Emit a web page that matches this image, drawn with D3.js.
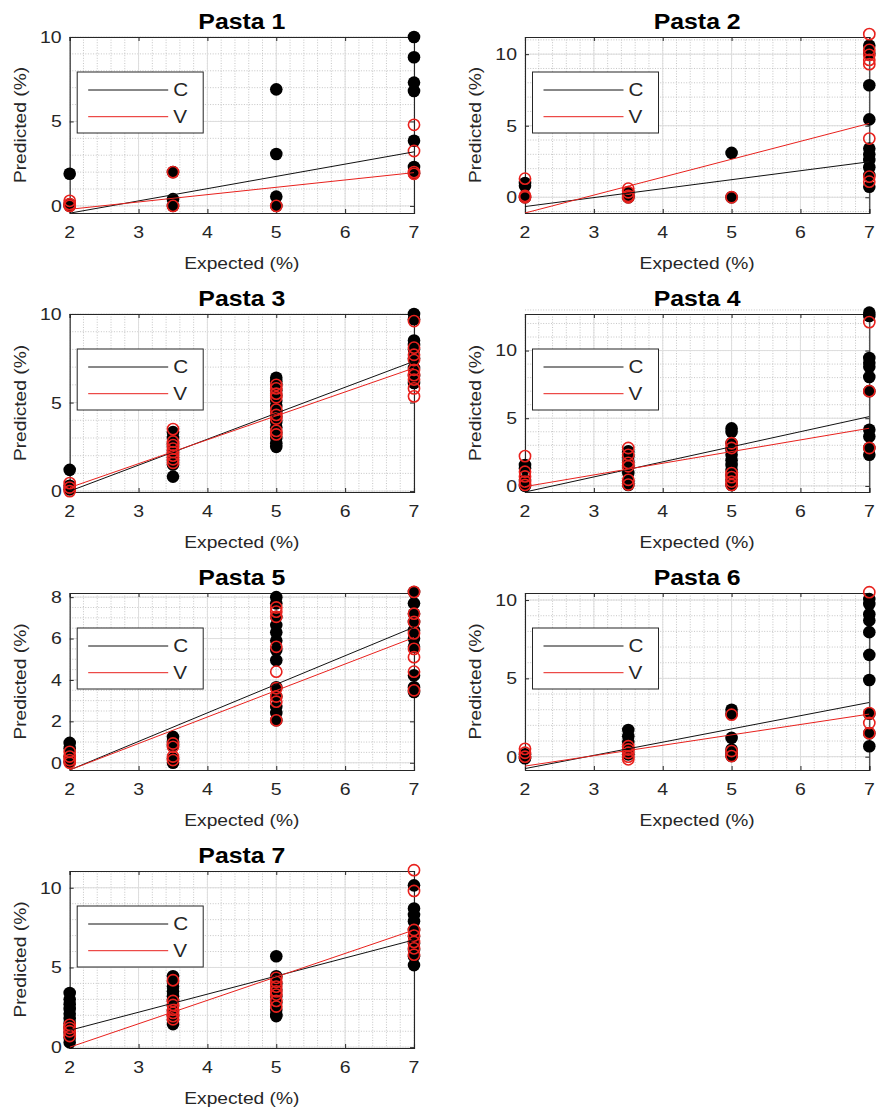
<!DOCTYPE html>
<html>
<head>
<meta charset="utf-8">
<script src="https://cdn.jsdelivr.net/npm/d3@7"></script>
<style>
  body { margin: 0; background: #fff; }
  svg { display: block; }
  text { font-family: "Liberation Sans", Arial, Helvetica, sans-serif; fill: #262626; }
</style>
</head>
<body>
<svg id="chart" width="877" height="1111"></svg>
<script>
// ---- data -------------------------------------------------------------
const titles = ["Pasta 1", "Pasta 2", "Pasta 3", "Pasta 4", "Pasta 5", "Pasta 6", "Pasta 7"];
const expected = [2, 3.5, 5, 7];          // expected concentration levels (%)
const xTicks = [2, 3, 4, 5, 6, 7];
const seriesNames = ["C", "V"];

// predicted values, one inner array per expected level (2, 3.5, 5, 7)
const pasta1C = [[1.9, 0.1, 0], [2.0, 0.4, 0], [6.9, 3.07, 0.55, 0], [10, 8.8, 7.3, 6.8, 3.86, 2.3, 1.93]];
const pasta1V = [[0.3, 0.1, 0], [2.0, 0], [0], [4.8, 3.25, 2.0, 1.9]];

const pasta2C = [[1.0, 0.8, 0], [0.3, 0.1, 0], [3.1, 0], [10.6, 10.05, 7.83, 5.44, 3.4, 3.0, 2.6, 2.1, 1.55, 0.74]];
const pasta2V = [[1.3, 0.1, 0], [0.6, 0.35, 0.1, 0], [0], [11.4, 10.3, 9.95, 9.6, 9.3, 4.1, 1.44, 1.09]];

const pasta3C = [[1.2, 0.3, 0.1], [3.33, 3.0, 2.7, 2.5, 2.3, 2.1, 1.9, 1.7, 1.5, 0.82],
                 [6.4, 6.2, 6.0, 5.7, 5.4, 5.1, 4.8, 4.5, 4.2, 3.9, 3.6, 3.3, 3.0, 2.7, 2.5],
                 [10.0, 9.7, 8.5, 8.25, 8.0, 7.5, 6.95, 6.5, 6.1]];
const pasta3V = [[0.45, 0.2, 0], [3.5, 2.8, 2.6, 2.4, 2.2, 2.0, 1.8, 1.6],
                 [6.0, 5.8, 5.5, 5.3, 4.6, 4.3, 4.1, 3.4, 3.2],
                 [9.6, 8.1, 7.7, 7.4, 6.85, 6.55, 6.3, 5.8, 5.35]];

const pasta4C = [[1.55, 1.3, 0.45, 0], [2.55, 2.2, 1.8, 1.45, 0.95, 0.32, 0.07],
                 [4.25, 4.0, 3.15, 2.65, 2.3, 1.9, 1.55, 1.2, 0.8, 0.45, 0.07],
                 [12.8, 12.55, 9.45, 9.1, 8.8, 8.05, 7.0, 4.15, 3.65, 2.8, 2.3]];
const pasta4V = [[2.2, 1.05, 0.7, 0.32, 0.07], [2.8, 2.3, 1.7, 1.45, 0.45, 0.1],
                 [3.15, 2.8, 0.95, 0.65, 0.32, 0.07], [12.1, 7.0, 2.8]];

const pasta5C = [[0.96, 0.7, 0.3, 0.05], [1.25, 1.0, 0.85, 0.2, 0],
                 [8.0, 7.7, 7.05, 6.65, 6.3, 5.9, 5.45, 4.95, 3.65, 3.2, 2.7, 2.4, 2.05],
                 [8.25, 7.7, 7.2, 6.8, 6.4, 6.0, 5.6, 4.22, 3.65, 3.42]];
const pasta5V = [[0.53, 0.3, 0.13, 0], [0.93, 0.77, 0.3, 0.13],
                 [7.5, 7.3, 7.05, 5.6, 4.4, 3.6, 3.2, 2.95, 2.05],
                 [8.25, 7.2, 6.8, 6.25, 5.5, 5.1, 4.4, 3.5]];

const pasta6C = [[0.15, 0, -0.1], [1.7, 1.3, 0.93, 0.46, 0.15], [3.0, 2.74, 1.2, 0.46, 0.25, 0.04],
                 [10.06, 9.75, 9.1, 8.7, 7.95, 6.5, 4.9, 2.74, 1.5, 0.67]];
const pasta6V = [[0.5, 0.25, 0], [0.67, 0.46, 0.25, 0, -0.17], [2.68, 0.36, 0.04],
                 [10.5, 2.78, 2.15, 1.5]];

const pasta7C = [[3.4, 3.0, 2.7, 2.4, 2.1, 1.8, 1.5, 1.2, 0.9, 0.6, 0.3],
                 [4.45, 4.1, 3.8, 3.5, 3.2, 2.9, 2.6, 2.3, 2.0, 1.7, 1.45],
                 [5.7, 4.45, 4.0, 3.6, 3.2, 2.8, 2.35, 2.05, 1.95],
                 [10.15, 8.7, 8.3, 7.9, 7.35, 6.95, 6.5, 6.1, 5.7, 5.15]];
const pasta7V = [[1.4, 1.2, 1.0, 0.7], [4.2, 2.9, 2.65, 2.35, 2.15, 1.95, 1.75],
                 [4.35, 4.1, 3.8, 3.5, 3.3, 2.9, 2.55],
                 [11.1, 9.8, 7.35, 7.0, 6.6, 6.2, 5.8]];

const predictedC = [pasta1C, pasta2C, pasta3C, pasta4C, pasta5C, pasta6C, pasta7C];
const predictedV = [pasta1V, pasta2V, pasta3V, pasta4V, pasta5V, pasta6V, pasta7V];

// fitted regression lines, value at expected = 2 and expected = 7
const fitC = [[-0.43, 3.2], [-0.65, 2.48], [0.0, 7.33], [-0.45, 5.12], [-0.35, 6.55], [-0.76, 3.46], [1.06, 6.73]];
const fitV = [[-0.2, 1.97], [-1.1, 5.16], [0.2, 6.95], [-0.05, 4.26], [-0.35, 6.05], [-0.6, 2.72], [0.0, 7.35]];

// y-axis limits and ticks
const yLimits = [[-0.42, 10], [-1.1, 11.2], [-0.05, 10], [-0.45, 12.7], [-0.35, 8.2], [-0.85, 10.45], [-0.05, 11.05]];
const yTicks = [[0, 5, 10], [0, 5, 10], [0, 5, 10], [0, 5, 10], [0, 2, 4, 6, 8], [0, 5, 10], [0, 5, 10]];
const yMinorStep = [1, 1, 1, 1, 0.5, 1, 1];
const xMinorStep = 0.2;

// ---- layout -----------------------------------------------------------
const colLeft = [69.7, 525];
const plotW = 344.3;
const rowTop = [37, 314, 593, 871];
const plotH = [176, 178, 177, 177];

const svg = d3.select("#chart");

// text helper: Arial-like glyphs, widened along the text direction
function label(g, x, y, str, o) {
  const t = g.append("text")
    .attr("transform", `translate(${x},${y})` + (o.rotate ? ` rotate(${o.rotate})` : "") + ` scale(${o.sx || 1},1)`)
    .attr("text-anchor", o.anchor || "middle")
    .attr("font-size", o.size)
    .attr("font-weight", o.weight || "normal")
    .text(str);
  if (o.dy) t.attr("dy", o.dy);
  return t;
}

function range(a, b, step) {
  const out = [];
  const n = Math.round((b - a) / step);
  for (let i = 0; i <= n; i++) out.push(+(a + i * step).toFixed(6));
  return out;
}

titles.forEach((title, i) => {
  const row = Math.floor(i / 2), col = i % 2;
  const x0 = colLeft[col], x1 = x0 + plotW;
  const top = rowTop[row], bottom = top + plotH[row];

  const x = d3.scaleLinear().domain([2, 7]).range([x0, x1]);
  const y = d3.scaleLinear().domain(yLimits[i]).range([bottom, top]);

  const g = svg.append("g");
  const clipId = "clip" + i;
  svg.append("clipPath").attr("id", clipId)
    .append("rect").attr("x", x0).attr("y", top).attr("width", plotW).attr("height", bottom - top);

  // minor grid (dotted)
  const yMinor = range(Math.ceil(yLimits[i][0] / yMinorStep[i]) * yMinorStep[i], yLimits[i][1], yMinorStep[i]);
  const xMinor = range(2, 7, xMinorStep);
  g.append("g").selectAll("line").data(xMinor).join("line")
    .attr("x1", d => x(d)).attr("x2", d => x(d)).attr("y1", top).attr("y2", bottom)
    .attr("stroke", "#b8b8b8").attr("stroke-width", 0.8).attr("stroke-dasharray", "1,1.6");
  g.append("g").selectAll("line").data(yMinor).join("line")
    .attr("x1", x0).attr("x2", x1).attr("y1", d => y(d)).attr("y2", d => y(d))
    .attr("stroke", "#b8b8b8").attr("stroke-width", 0.8).attr("stroke-dasharray", "1,1.6");

  // major grid (solid, light)
  g.append("g").selectAll("line").data(xTicks).join("line")
    .attr("x1", d => x(d)).attr("x2", d => x(d)).attr("y1", top).attr("y2", bottom)
    .attr("stroke", "#dedede").attr("stroke-width", 1);
  g.append("g").selectAll("line").data(yTicks[i]).join("line")
    .attr("x1", x0).attr("x2", x1).attr("y1", d => y(d)).attr("y2", d => y(d))
    .attr("stroke", "#dedede").attr("stroke-width", 1);

  // axes box with inward ticks on all sides
  const axisColor = "#262626";
  const bottomAxis = d3.axisBottom(x).tickValues(xTicks).tickSize(-4).tickFormat("");
  const topAxis = d3.axisTop(x).tickValues(xTicks).tickSize(-4).tickFormat("");
  const leftAxis = d3.axisLeft(y).tickValues(yTicks[i]).tickSize(-4).tickFormat("");
  const rightAxis = d3.axisRight(y).tickValues(yTicks[i]).tickSize(-4).tickFormat("");
  [[bottomAxis, `translate(0,${bottom})`], [topAxis, `translate(0,${top})`],
   [leftAxis, `translate(${x0},0)`], [rightAxis, `translate(${x1},0)`]].forEach(([ax, tr]) => {
    const a = g.append("g").attr("transform", tr).call(ax);
    a.selectAll("path, line").attr("stroke", axisColor).attr("stroke-width", 1);
    a.select("path").attr("stroke-width", 1.1);
  });

  // tick labels
  xTicks.forEach(v => label(g, x(v), bottom + 25, String(v), { size: 16.5, sx: 1.18 }));
  yTicks[i].forEach(v => label(g, x0 - 8, y(v), String(v), { size: 16.5, sx: 1.18, anchor: "end", dy: "0.36em" }));

  // axis titles and panel title
  label(g, (x0 + x1) / 2, bottom + 56, "Expected (%)", { size: 16, sx: 1.2 });
  label(g, x0 - 44, (top + bottom) / 2, "Predicted (%)", { size: 16, sx: 1.2, rotate: -90 });
  label(g, (x0 + x1) / 2, top - 8, title, { size: 22, sx: 1.13, weight: "bold" }).style("fill", "#000");

  // scatter: C filled black, V open red
  const flat = arr => arr.flatMap((vals, k) => vals.map(v => ({ ex: expected[k], pr: v })));
  g.append("g").selectAll("circle").data(flat(predictedC[i])).join("circle")
    .attr("cx", d => x(d.ex)).attr("cy", d => y(d.pr)).attr("r", 6.3)
    .attr("fill", "#000");
  g.append("g").selectAll("circle").data(flat(predictedV[i])).join("circle")
    .attr("cx", d => x(d.ex)).attr("cy", d => y(d.pr)).attr("r", 5.6)
    .attr("fill", "none").attr("stroke", "#e8211d").attr("stroke-width", 1.6);

  // regression lines
  const fitLine = d3.line().x(d => x(d[0])).y(d => y(d[1]));
  g.append("path").attr("clip-path", `url(#${clipId})`)
    .attr("d", fitLine([[2, fitC[i][0]], [7, fitC[i][1]]]))
    .attr("fill", "none").attr("stroke", "#111").attr("stroke-width", 1);
  g.append("path").attr("clip-path", `url(#${clipId})`)
    .attr("d", fitLine([[2, fitV[i][0]], [7, fitV[i][1]]]))
    .attr("fill", "none").attr("stroke", "#e8211d").attr("stroke-width", 1);

  // legend
  const lx = x0 + 7.5, ly = top + 35;
  const lg = g.append("g");
  lg.append("rect").attr("x", lx).attr("y", ly).attr("width", 126).attr("height", 61)
    .attr("fill", "#fff").attr("stroke", axisColor).attr("stroke-width", 1);
  const legendColors = ["#111", "#e8211d"];
  seriesNames.forEach((name, k) => {
    const yy = ly + 18 + k * 26.7;
    lg.append("line").attr("x1", lx + 11).attr("x2", lx + 91).attr("y1", yy).attr("y2", yy)
      .attr("stroke", legendColors[k]).attr("stroke-width", 1);
    label(lg, lx + 96, yy, name, { size: 18, sx: 1.15, anchor: "start", dy: "0.36em" });
  });
});
</script>
</body>
</html>
